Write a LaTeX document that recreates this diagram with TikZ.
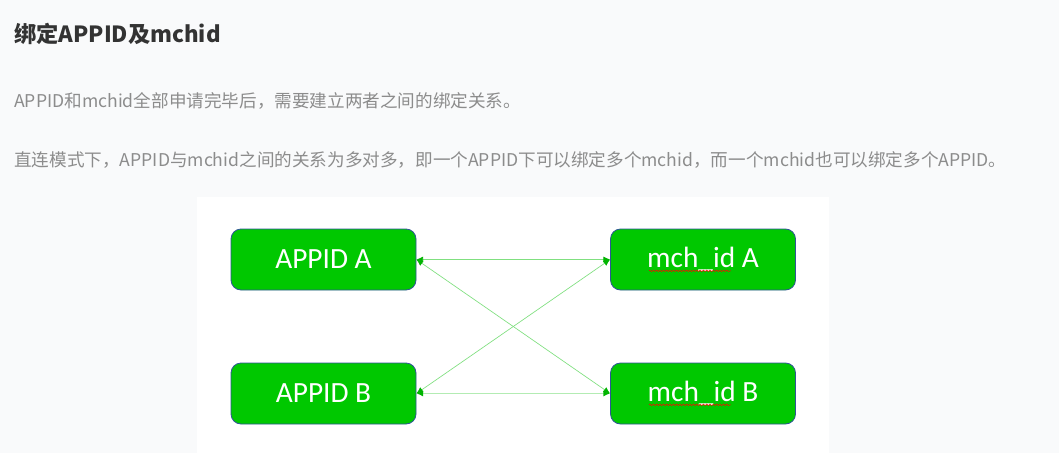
\documentclass[tikz,border=0pt]{standalone}
\usepackage{fontspec}
\setmainfont{Noto Sans CJK SC}
\newfontfamily\boxfont{Carlito}
\usetikzlibrary{arrows.meta,decorations.pathmorphing}
\definecolor{pagebg}{HTML}{F9FAFB}
\definecolor{titlegray}{HTML}{333333}
\definecolor{textgray}{HTML}{8C8C8C}
\definecolor{boxgreen}{HTML}{00C800}
\definecolor{boxline}{HTML}{2F5597}
\definecolor{linkgreen}{HTML}{80E080}
\definecolor{tipgreen}{HTML}{00B400}
\tikzset{
  idbox/.style={draw=boxline, line width=0.6pt, fill=boxgreen, rounded corners=7.5pt,
    minimum width=138.75pt, minimum height=45.75pt, inner sep=0pt,
    text=white, font=\boxfont\fontsize{22}{26}\selectfont},
  link/.style={linkgreen, line width=0.5pt,
    {Latex[length=5pt,width=4.5pt,color=tipgreen]}-{Latex[length=5pt,width=4.5pt,color=tipgreen]}},
  squiggle/.style={red, line width=0.4pt, decorate,
    decoration={snake, amplitude=0.6pt, segment length=2.5pt}},
}
\begin{document}
\begin{tikzpicture}[x=0.75pt,y=-0.75pt]
    \fill[pagebg] (0,0) rectangle (1059,453);
    \useasboundingbox (0,0) rectangle (1059,453);
    \fill[white] (197,197) rectangle (829,453);
    % heading and text
    \node[anchor=base west, inner sep=0pt, text=titlegray, font=\bfseries\fontsize{16.7}{20}\selectfont] (title) at (14,43) {绑定APPID及mchid};
    \node[anchor=base west, inner sep=0pt, text=textgray, font=\fontsize{13.2}{16}\selectfont] (line1) at (14,107) {APPID和mchid全部申请完毕后，需要建立两者之间的绑定关系。};
    \node[anchor=base west, inner sep=0pt, text=textgray, font=\fontsize{13.2}{16}\selectfont] (line2) at (14,166) {直连模式下，APPID与mchid之间的关系为多对多，即一个APPID下可以绑定多个mchid，而一个mchid也可以绑定多个APPID。};
    % boxes
    \node[idbox] (appA) at (323.5,259.5) {APPID A};
    \node[idbox] (appB) at (323.5,393.5) {APPID B};
    \node[idbox] (mchA) at (703,259.5) {mch\_id A};
    \node[idbox] (mchB) at (703,393.5) {mch\_id B};
    % spell-check marks
    \foreach \b in {mchA,mchB}
      \draw[squiggle] ([xshift=-40.5pt,yshift=-8.5pt]\b.center) -- ([xshift=21pt,yshift=-8.5pt]\b.center);
    % links
    \draw[link] (appA.east) -- (mchA.west);
    \draw[link] (appA.east) -- (mchB.west);
    \draw[link] (appB.east) -- (mchA.west);
    \draw[link, line width=1pt, linkgreen!60] (appB.east) -- (mchB.west);
\end{tikzpicture}
\end{document}
